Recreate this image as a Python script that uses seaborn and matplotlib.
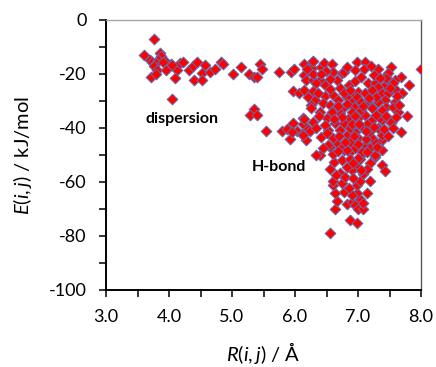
import numpy as np
import pandas as pd
import matplotlib
matplotlib.use("Agg")
import matplotlib.pyplot as plt
import seaborn as sns
from matplotlib.ticker import FixedLocator, FuncFormatter

# ---- data ----
R = [
 3.76,3.61,3.70,3.73,3.85,3.87,3.83,3.94,3.79,4.03,3.76,3.81,3.72,3.79,3.95,4.12,4.10,4.17,4.23,4.31,
 4.38,4.45,4.39,4.52,4.52,4.57,4.65,4.73,4.82,4.85,4.04,4.04,3.91,
 5.02,5.14,5.27,5.35,5.39,5.44,5.48,5.75,5.94,5.99,5.35,5.29,5.39,5.54,5.80,5.91,5.97,6.03,5.92,6.11,
 6.12,6.17,6.20,6.13,5.97,6.07,6.14,
 6.14,6.27,6.27,6.42,6.46,6.59,6.61,6.74,6.78,6.14,6.17,6.29,6.39,6.48,6.67,6.85,6.49,
 6.98,7.11,7.10,7.32,7.44,7.53,7.47,7.68,7.59,7.43,7.53,7.81,7.16,7.27,7.32,7.59,7.00,6.89,7.11,7.22,
 7.38,7.47,7.70,7.43,7.32,7.59,7.16,6.95,7.00,7.22,7.45,8.00,7.55,7.77,7.52,7.69,7.38,7.38,7.38,7.38,
 7.27,7.19,7.08,7.03,6.98,6.90,6.82,6.77,6.66,6.56,6.56,6.71,6.39,6.34,7.38,7.43,7.19,7.45,7.55,
 6.29,6.21,6.32,6.48,6.61,6.45,6.56,6.69,6.82,6.90,6.77,6.93,6.26,
 6.14,5.87,5.95,6.13,6.24,6.29,6.34,6.42,6.53,6.61,6.74,6.87,6.26,6.40,6.50,6.63,6.71,6.82,6.53,6.85,
 6.90,6.63,6.95,6.93,
 7.64,7.53,7.32,7.38,7.22,7.11,7.19,7.27,7.06,7.00,6.95,6.87,6.82,7.00,7.11,7.22,7.08,6.95,7.22,7.38,
 7.35,7.00,
 6.56,6.87,6.98,6.63,6.66,6.82,6.90,6.95,7.00,7.08,7.03,7.08,7.14,6.98,6.90,6.77,6.63,6.61,6.74,6.85,
 6.98,7.03,7.19,6.60,6.65,6.80,6.92,7.08,7.15,6.62,6.75,6.88,6.60,
 6.28,6.29,6.33,
 6.55,6.72,6.95,7.05,7.25,7.35,6.78,6.98,7.05,7.28,6.72,6.82,6.95,7.05,7.15,7.28,7.18,7.45,7.48,7.28,
 7.12,6.78,6.88,6.70,6.58,6.48,6.45,6.75,6.90,7.02,7.12,7.25,7.42,6.68,6.94,7.08,7.18,6.88,6.55,6.42,
 6.95,6.82,7.20,6.19,6.36,6.50,6.38,6.62,6.68,7.00,7.15,7.30,6.92,7.05,6.80,7.62,7.50,7.65,7.60,7.55,
]
E = [
 -7.1,-13.1,-14.8,-15.7,-12.3,-13.3,-14.8,-15.2,-16.0,-16.3,-17.0,-18.5,-21.0,-20.1,-18.5,-18.5,-21.4,-16.0,-15.4,-18.5,
 -16.9,-15.7,-22.2,-19.7,-22.2,-16.7,-19.1,-18.3,-15.4,-16.4,-29.4,-16.7,-15.4,
 -20.0,-17.3,-20.1,-21.0,-21.0,-16.3,-18.3,-19.4,-19.4,-18.1,-33.0,-35.2,-35.2,-41.1,-41.1,-40.1,-38.0,-41.1,-44.2,-42.3,
 -38.5,-44.4,-40.5,-36.4,-26.3,-27.2,-25.9,
 -16.3,-15.4,-17.9,-17.3,-16.0,-16.3,-19.1,-19.7,-19.1,-20.4,-22.2,-22.2,-22.2,-24.1,-22.2,-24.1,-18.8,
 -15.4,-15.4,-18.3,-18.3,-20.7,-17.3,-19.5,-21.0,-22.2,-24.1,-23.5,-24.1,-23.2,-23.2,-24.7,-25.7,-26.5,-27.8,-27.2,-25.9,
 -27.2,-27.2,-27.2,-29.6,-30.2,-30.2,-30.2,-30.2,-32.1,-32.1,-32.1,-18.3,-32.1,-35.6,-38.3,-41.4,-37.0,-40.7,-44.4,-48.1,
 -50.6,-53.1,-49.4,-51.6,-54.3,-55.6,-54.3,-48.1,-45.7,-46.9,-55.0,-56.8,-50.0,-50.0,-53.7,-55.8,-46.9,-21.6,-23.2,
 -26.2,-28.4,-29.6,-28.1,-27.8,-30.9,-31.5,-29.6,-28.4,-30.2,-32.1,-32.1,-31.5,
 -36.7,-40.4,-41.4,-42.6,-41.1,-37.6,-40.1,-43.2,-46.3,-43.8,-46.9,-48.8,-32.7,-33.9,-36.4,-38.3,-40.7,-42.6,-40.7,-36.4,
 -33.9,-32.7,-39.5,-45.0,
 -33.9,-37.7,-40.1,-42.6,-43.8,-46.3,-47.5,-50.0,-48.8,-51.2,-47.5,-45.0,-48.1,-36.4,-35.2,-37.0,-40.1,-41.4,-32.7,-33.3,
 -36.4,-43.8,
 -79.0,-74.1,-75.3,-70.1,-66.9,-68.1,-67.3,-68.5,-70.1,-70.1,-66.4,-67.7,-64.2,-64.2,-64.8,-63.6,-63.9,-61.1,-60.5,-62.3,
 -61.1,-59.8,-59.6,-59.5,-57.5,-58.0,-58.5,-57.0,-55.0,-52.5,-52.0,-51.5,-49.5,
 -15.1,-20.0,-23.5,
 -25.5,-25.0,-22.5,-21.0,-20.5,-21.5,-27.0,-28.5,-30.5,-28.5,-34.5,-31.0,-35.5,-33.5,-38.5,-35.0,-41.5,-35.5,-43.0,-45.5,
 -44.0,-38.0,-40.0,-43.0,-34.0,-39.0,-47.5,-36.0,-38.5,-38.5,-41.0,-39.5,-40.5,-48.5,-43.0,-32.0,-29.0,-26.0,-22.0,-20.0,
 -18.5,-17.5,-17.0,-18.0,-27.0,-42.0,-35.5,-36.5,-32.0,-46.0,-49.0,-47.0,-53.0,-55.5,-45.0,-28.0,-25.0,-31.5,-36.0,-40.0,
]
x_major = [3.0, 4.0, 5.0, 6.0, 7.0, 8.0]
y_major = [0, -20, -40, -60, -80, -100]
annotations = [("dispersion", 4.20, -36.8), ("H-bond", 5.74, -54.3)]

df = pd.DataFrame({"R": R, "E": E})

sns.set_theme(style="ticks")
plt.rcParams["font.family"] = ["Lato", "DejaVu Sans"]
plt.rcParams["axes.unicode_minus"] = False
plt.rcParams["mathtext.fontset"] = "custom"
plt.rcParams["mathtext.it"] = "Lato:italic"
plt.rcParams["mathtext.rm"] = "Lato"
plt.rcParams["text.color"] = "black"
plt.rcParams["axes.labelcolor"] = "black"
plt.rcParams["xtick.color"] = "black"
plt.rcParams["ytick.color"] = "black"

fig = plt.figure(figsize=(4.36, 3.67), dpi=100)
ax = fig.add_axes([106/436, 1-290/367, 315/436, 270/367])

sns.scatterplot(data=df, x="R", y="E", ax=ax, marker="D", s=30,
                color="#ff0000", edgecolor="#5a6fb5", linewidth=0.7, zorder=3)

ax.set_xlim(3.0, 8.0)
ax.set_ylim(-100, 0)
ax.xaxis.set_major_locator(FixedLocator(x_major))
ax.xaxis.set_minor_locator(FixedLocator([v + 0.5 for v in x_major[:-1]]))
ax.yaxis.set_major_locator(FixedLocator(y_major))
ax.yaxis.set_minor_locator(FixedLocator([v - 10 for v in y_major[:-1]]))
ax.xaxis.set_major_formatter(FuncFormatter(lambda v, p: f"{v:.1f}"))
ax.yaxis.set_major_formatter(FuncFormatter(lambda v, p: f"{int(round(v))}"))
ax.tick_params(which="both", direction="out", length=5, width=1.1, color="black")
ax.tick_params(axis="both", which="major", labelsize=13, pad=9, labelcolor="black")

for s in ["left", "bottom"]:
    ax.spines[s].set_color("black")
    ax.spines[s].set_linewidth(1.4)
ax.spines["top"].set_color("#a6a6a6")
ax.spines["top"].set_linewidth(1.0)
ax.spines["right"].set_color("#595959")
ax.spines["right"].set_linewidth(1.0)

ax.set_xlabel(r"$\mathit{R(i,j)}$ / Å", fontsize=14.5, va="center")
ax.set_ylabel(r"$\mathit{E(i,j)}$ / kJ/mol", fontsize=14.5, va="center")
ax.xaxis.set_label_coords(0.498, -0.235)
ax.yaxis.set_label_coords(-0.265, 0.5)

for txt, xx, yy in annotations:
    ax.text(xx, yy, txt, ha="center", va="center", fontsize=11.5, fontweight="bold", color="black")

fig.savefig("out.png", dpi=100)
